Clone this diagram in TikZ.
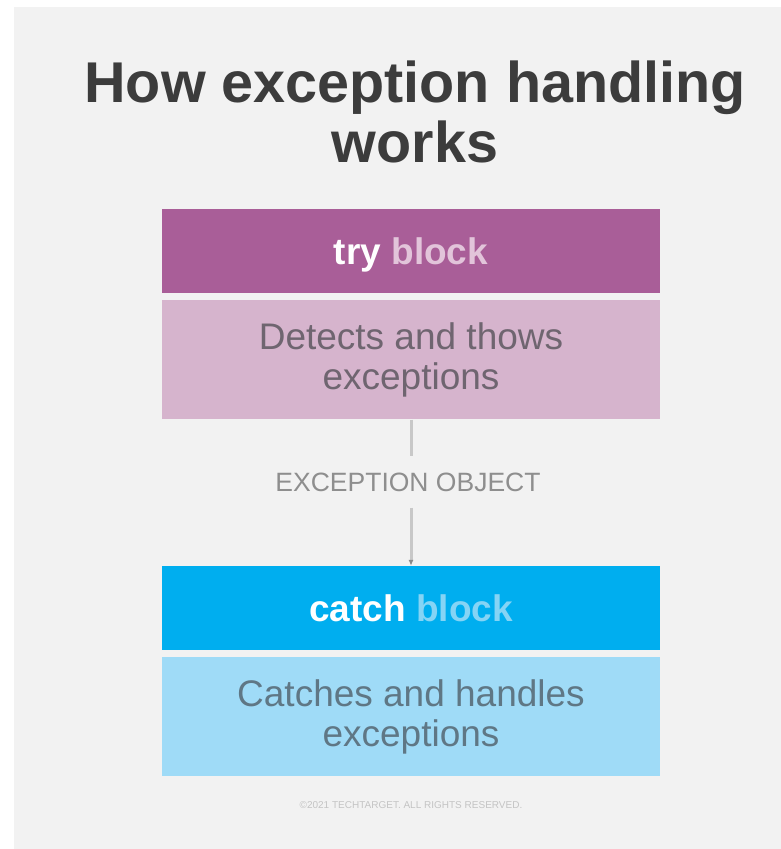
\documentclass[tikz,border=0pt]{standalone}
\usepackage{fontspec}
\setmainfont{Liberation Sans}
\usetikzlibrary{positioning,arrows.meta}

\definecolor{bggray}{HTML}{F2F2F2}
\definecolor{titlegray}{HTML}{3C3C3C}
\definecolor{tryhead}{HTML}{A95E98}
\definecolor{tryblock}{HTML}{E2C4DA}
\definecolor{trybody}{HTML}{D6B4CD}
\definecolor{trytext}{HTML}{6F6570}
\definecolor{catchhead}{HTML}{00AEEF}
\definecolor{catchblock}{HTML}{85D4F5}
\definecolor{catchbody}{HTML}{9FDBF7}
\definecolor{catchtext}{HTML}{5F7785}
\definecolor{linkgray}{HTML}{C8C8C8}
\definecolor{tipgray}{HTML}{8A8A8A}
\definecolor{labelgray}{HTML}{8E8E8E}
\definecolor{creditgray}{HTML}{C4C4C4}

\tikzset{
  titletext/.style={align=center, text=titlegray, inner sep=0pt,
    font=\fontsize{57.5}{60}\selectfont\bfseries},
  headbox/.style={minimum width=498pt, minimum height=84pt, inner sep=0pt,
    text=white, text depth=0pt, font=\fontsize{37}{40}\selectfont\bfseries},
  bodybox/.style={minimum width=498pt, minimum height=119pt, inner sep=0pt,
    align=center, font=\fontsize{37}{40}\selectfont},
  objlabel/.style={text=labelgray, inner xsep=2pt, inner ysep=16pt,
    font=\fontsize{26.5}{28}\selectfont},
  link/.style={draw=linkgray, line width=3pt},
  credit/.style={text=creditgray, font=\fontsize{10}{12}\selectfont},
}

\begin{document}
\begin{tikzpicture}[x=1pt,y=-1pt]
  \useasboundingbox (0,0) rectangle (781,849);
  \fill[bggray] (14,7) rectangle (781,849);

  % title
  \node[titletext] (title) at (415,112) {How exception handling\\works};

  % try
  \node[headbox, fill=tryhead] (tryhead) at (411,251) {try \textcolor{tryblock}{block}};
  \node[bodybox, fill=trybody, text=trytext, below=7pt of tryhead] (trybody) {Detects and thows\\exceptions};

  % catch
  \node[headbox, fill=catchhead] (catchhead) at (411,608) {catch \textcolor{catchblock}{block}};
  \node[bodybox, fill=catchbody, text=catchtext, below=7pt of catchhead] (catchbody) {Catches and handles\\exceptions};

  % exception object
  \node[objlabel] (excobj) at (408,482) {EXCEPTION OBJECT};
  \draw[link] (trybody) -- (trybody |- excobj.north);
  \draw[link, -{Latex[length=6pt,width=5pt,color=tipgray]}] (trybody |- excobj.south) -- (catchhead);

  \node[credit] (footer) at (411,805) {\textcopyright 2021 TECHTARGET. ALL RIGHTS RESERVED.};
\end{tikzpicture}
\end{document}
